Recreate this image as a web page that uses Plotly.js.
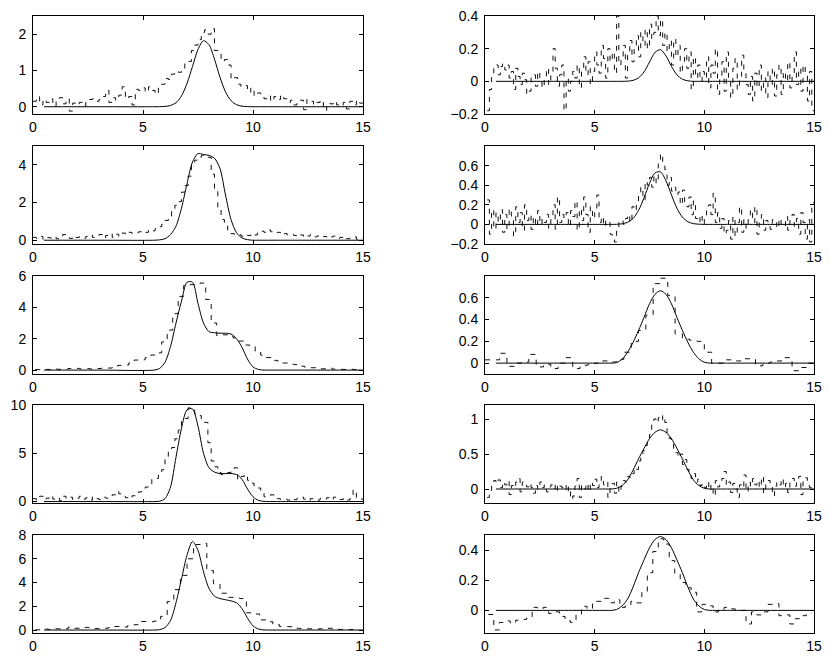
<!DOCTYPE html>
<html><head><meta charset="utf-8">
<script src="https://cdn.plot.ly/plotly-3.0.1.min.js"></script>
<style>html,body{margin:0;padding:0;background:#fff}#chart{width:830px;height:664px}</style>
</head><body><div id="chart"></div>
<script>
// ---------- data ----------
const xTickVals = [0, 5, 10, 15];
const curveX = [0.5, 3, 5.5, 5.75, 6, 6.25, 6.5, 6.75, 7, 7.25, 7.5, 7.75, 8, 8.25, 8.5, 8.75, 9, 9.25, 9.5, 9.75, 10, 10.25, 10.5, 10.75, 11, 13, 15];

const curveL1 = [0,0,0,0.002,0.01,0.035,0.11,0.30,0.64,1.11,1.58,1.82,1.71,1.31,0.81,0.41,0.17,0.057,0.015,0.003,0,0,0,0,0,0,0];
const curveL2 = [0,0,0,0.02,0.08,0.3,0.75,1.7,3.0,4.15,4.6,4.55,4.5,4.35,3.8,2.4,1.1,0.4,0.12,0.03,0,0,0,0,0,0,0];
const curveL3 = [0,0,0,0.1,0.5,1.5,3.0,4.4,5.6,5.6,4.25,3.0,2.45,2.38,2.35,2.35,2.3,2.0,1.45,0.7,0.2,0.04,0,0,0,0,0];
const curveL4 = [0,0,0,0.03,0.3,1.5,4.6,7.6,9.5,9.6,7.8,5.0,3.5,3.05,2.9,2.9,2.9,2.8,2.3,1.3,0.5,0.12,0.02,0,0,0,0];
const curveL5 = [0,0,0,0.03,0.2,0.8,2.3,4.3,6.3,7.45,6.7,4.9,3.5,2.85,2.65,2.55,2.45,2.3,1.8,1.0,0.35,0.08,0.01,0,0,0,0];
const curveR1 = [0,0,0,0,0,0,0.001,0.006,0.021,0.058,0.118,0.177,0.194,0.156,0.092,0.040,0.013,0.003,0,0,0,0,0,0,0,0,0];
const curveR2 = [0,0,0,0,0.001,0.006,0.021,0.061,0.143,0.271,0.419,0.525,0.536,0.445,0.301,0.165,0.074,0.027,0.008,0.002,0,0,0,0,0,0,0];
const curveR3 = [0,0,0,0,0.005,0.035,0.10,0.19,0.30,0.42,0.545,0.632,0.665,0.632,0.545,0.42,0.30,0.19,0.10,0.04,0.008,0,0,0,0,0,0];
const curveR4 = [0,0,0,0,0.01,0.05,0.13,0.27,0.43,0.58,0.72,0.81,0.845,0.81,0.72,0.58,0.43,0.27,0.13,0.05,0.01,0,0,0,0,0,0];
const curveR5 = [0,0,0,0,0.006,0.03,0.075,0.155,0.25,0.335,0.415,0.47,0.49,0.47,0.415,0.335,0.25,0.155,0.075,0.03,0.006,0,0,0,0,0,0];

// staircase (histogram) values; bins start at stepsXX_start with width stepsXX_width
const stepsL1_start = 0, stepsL1_width = 0.15;
const stepsL1 = [0.15,0.28,0.05,0.20,0.12,0.22,0.02,0.18,0.25,0.08,
 0.22,-0.12,0.10,0.05,0.12,0.02,0.18,0.20,0.22,0.15,
 0.20,0.28,0.45,0.12,0.25,0.18,0.32,0.55,0.22,0.28,
 0.05,0.48,0.45,0.52,0.40,0.55,0.45,0.35,0.60,0.62,
 0.78,0.75,0.90,0.98,0.95,1.05,1.20,1.25,1.55,1.70,
 1.85,2.05,2.12,2.00,2.15,1.55,1.45,1.25,1.30,1.15,
 0.75,0.80,0.62,0.55,0.58,0.40,0.52,0.30,0.38,0.28,
 0.22,0.30,0.15,0.28,0.20,0.32,0.22,0.12,0.18,0.05,
 0.12,0.18,-0.08,0.20,0.15,0.05,0.12,0.18,-0.10,0.10,
 0.08,0.15,0.05,0.02,0.12,-0.06,0.15,0.05,0.18,0.10];

const stepsL2_start = 0, stepsL2_width = 0.15;
const stepsL2 = [0.15,0.10,0.20,0.05,0.15,0.12,0.20,0.08,0.15,0.30,
 0.25,0.10,0.22,0.15,0.18,0.10,0.20,0.28,0.15,0.22,
 0.30,0.12,0.25,0.35,0.15,0.32,0.20,0.38,0.30,0.42,
 0.35,0.40,0.45,0.38,0.42,0.55,0.50,0.62,0.72,0.85,
 1.05,1.25,1.55,1.85,2.05,2.55,2.90,3.40,3.95,4.25,
 4.40,4.50,4.45,4.40,3.50,2.60,1.75,1.10,0.75,0.45,
 0.35,0.28,0.30,0.22,0.30,0.25,0.35,0.28,0.40,0.48,
 0.42,0.55,0.45,0.38,0.42,0.30,0.35,0.28,0.32,0.25,
 0.20,0.28,0.15,0.22,0.30,0.18,0.22,0.15,0.20,0.12,
 0.18,0.22,0.10,0.15,0.20,0.08,0.12,0.18,0.05,0.10];

const stepsL3_start = 0.1, stepsL3_width = 0.25;
const stepsL3 = [0.03,0.05,0.04,0.07,0.05,0.06,0.10,0.11,0.08,0.09,
 0.07,0.10,0.12,0.13,0.18,0.30,0.32,0.45,0.64,0.66,
 0.80,0.96,1.10,1.80,2.55,3.60,4.70,5.40,5.45,5.50,
 5.55,4.50,3.00,2.20,2.25,2.15,2.05,1.85,1.60,1.55,
 1.20,0.95,0.80,0.62,0.58,0.45,0.38,0.35,0.25,0.18,
 0.15,0.10,0.08,0.12,0.06,0.05,0.04,0.05,0.03];

const stepsL4_start = 0, stepsL4_width = 0.15;
const stepsL4 = [0.30,0.15,0.55,0.20,0.35,0.60,0.25,0.40,0.10,0.55,
 0.30,0.45,0.20,0.35,0.55,0.25,0.40,0.15,0.50,0.30,
 0.20,0.45,0.35,0.55,0.70,1.05,0.80,0.55,0.40,0.30,
 0.60,0.85,1.00,1.20,1.50,1.85,2.30,2.40,2.80,3.30,
 4.60,5.10,5.60,6.50,7.40,8.30,8.60,9.70,9.50,9.10,
 8.90,8.40,8.20,6.10,4.20,3.60,3.00,2.80,2.90,3.00,
 3.30,3.50,2.30,2.60,2.80,2.20,1.90,1.60,1.40,0.90,
 0.50,0.60,0.70,0.45,0.30,0.20,0.25,0.15,0.30,0.20,
 0.35,0.45,0.25,0.10,0.30,0.20,0.15,0.35,0.25,0.40,
 0.20,0.45,0.30,0.20,0.35,0.15,0.30,1.20,0.40,0.25];

const stepsL5_start = 0.1, stepsL5_width = 0.3;
const stepsL5 = [0.02,0.08,0.05,0.10,0.12,0.25,0.15,0.22,0.20,0.12,
 0.15,0.20,0.30,0.25,0.37,0.45,0.72,0.70,0.75,1.15,
 2.40,3.40,4.60,6.00,7.20,7.30,5.00,3.90,3.10,2.75,
 2.70,2.65,1.45,1.35,0.85,0.70,0.45,0.30,0.28,0.15,
 0.12,0.10,0.08,0.10,0.15,0.08,0.05,0.03,0.02];

const stepsR1_start = 0.1, stepsR1_width = 0.1;
const stepsR1 = [-0.18,-0.05,0.05,0.08,0.10,0.04,0.09,0.11,0.07,
 0.10,0.02,0.06,-0.05,0.08,0.03,-0.02,0.05,0.01,-0.08,
 -0.06,0.02,0.04,-0.03,0.06,0.01,-0.04,0.03,0.08,-0.02,
 0.05,0.20,0.08,-0.03,0.04,0.10,-0.18,0.02,-0.06,0.00,
 0.06,0.02,0.10,-0.04,0.08,0.15,0.04,0.12,-0.02,0.06,
 0.18,0.10,0.05,0.22,0.14,0.02,0.20,0.12,0.18,0.05,
 0.40,0.10,0.15,0.22,0.02,0.18,0.25,0.12,0.20,0.28,
 0.15,0.30,0.22,0.32,0.20,0.35,0.26,0.30,0.40,0.28,
 0.38,0.22,0.30,0.18,0.25,0.10,0.26,0.15,0.22,0.05,
 0.12,0.20,0.08,0.18,-0.05,0.15,0.02,0.10,0.00,0.06,
 0.02,0.15,-0.04,0.10,0.05,0.20,-0.08,0.03,0.12,-0.06,
 0.18,0.02,-0.10,0.08,0.14,-0.05,0.02,0.16,0.06,-0.02,
 -0.08,0.03,-0.12,0.05,-0.04,0.10,-0.06,0.02,-0.10,0.06,
 -0.02,0.08,-0.09,0.04,0.10,-0.08,0.06,0.00,0.12,-0.04,
 0.05,0.18,-0.02,0.08,-0.06,0.10,0.04,-0.12,0.06,-0.18];

const stepsR2_start = 0.1, stepsR2_width = 0.1;
const stepsR2 = [0.25,-0.10,0.15,-0.05,0.12,0.02,0.15,-0.08,0.10,
 -0.05,0.16,0.05,-0.12,0.18,0.02,0.12,-0.06,0.20,0.04,
 0.10,-0.05,0.08,-0.02,0.14,0.00,0.06,0.02,0.10,-0.04,
 0.05,0.20,-0.05,0.28,0.02,0.10,0.06,0.12,-0.02,0.14,
 0.08,0.24,-0.06,0.16,0.04,0.28,0.10,-0.08,0.18,0.06,
 0.12,0.30,0.02,0.08,-0.02,0.04,0.02,-0.10,-0.12,-0.18,
 -0.05,0.02,0.04,0.00,0.06,0.10,0.02,0.18,0.14,0.22,
 0.30,0.38,0.25,0.44,0.40,0.48,0.38,0.50,0.42,0.62,
 0.72,0.64,0.56,0.40,0.48,0.34,0.38,0.30,0.33,0.20,
 0.35,0.22,0.18,0.28,0.10,0.24,0.06,0.02,0.10,0.00,
 0.06,0.14,0.20,0.10,0.32,0.02,0.12,-0.04,0.06,-0.10,
 -0.06,0.04,-0.15,0.08,-0.12,0.02,0.18,-0.08,0.05,-0.04,
 0.08,0.15,0.02,0.18,-0.10,0.06,0.10,-0.06,0.04,0.00,
 -0.05,0.05,0.02,-0.04,0.06,0.00,-0.02,0.08,-0.06,0.04,
 0.10,-0.02,0.06,-0.10,0.12,0.02,-0.15,0.05,-0.18,0.22];

const stepsR3_start = 0, stepsR3_width = 1/3;
const stepsR3 = [0.03,0.03,0.09,-0.03,0.00,0.01,0.08,-0.035,-0.01,-0.05,
 0.00,0.05,-0.05,-0.02,-0.015,0.00,0.02,0.01,0.035,0.10,
 0.20,0.30,0.44,0.73,0.78,0.62,0.27,0.22,0.21,0.20,
 0.10,0.00,0.00,0.03,0.02,0.04,0.04,-0.025,0.00,0.01,
 0.02,0.05,-0.07,-0.04,0.00];

const stepsR4_start = 0.1, stepsR4_width = 0.1;
const stepsR4 = [-0.12,-0.05,0.05,0.12,0.08,0.13,0.02,0.10,0.06,
 0.12,-0.08,0.05,0.02,0.10,0.15,-0.04,0.10,0.06,0.03,
 0.08,0.02,-0.06,0.05,0.00,0.10,0.02,0.06,-0.04,0.03,
 0.06,0.00,0.08,-0.02,0.04,0.02,0.06,-0.05,0.03,-0.15,
 -0.10,0.04,0.15,-0.12,0.05,0.00,0.08,-0.04,0.10,0.05,
 0.14,0.02,0.12,0.18,0.06,0.10,-0.12,0.02,0.08,-0.06,
 0.10,-0.05,0.04,0.12,0.10,0.18,0.16,0.22,0.30,0.28,
 0.40,0.46,0.55,0.62,0.70,0.78,0.92,1.00,0.95,1.02,
 0.98,1.05,0.95,0.80,0.72,0.65,0.58,0.52,0.45,0.50,
 0.35,0.42,0.28,0.20,0.15,0.22,0.10,0.14,0.05,0.08,
 0.02,0.10,-0.02,0.06,-0.10,0.12,0.03,0.08,0.15,0.25,
 0.05,0.10,-0.05,0.08,0.00,-0.12,0.06,0.02,0.20,-0.04,
 0.10,0.04,0.15,0.06,0.12,0.02,0.18,-0.06,0.08,0.12,
 0.05,-0.10,0.04,0.10,0.06,0.15,0.02,0.08,-0.05,0.12,
 0.15,0.04,0.10,0.18,-0.08,0.14,0.16,0.05,0.02,0.01];

const stepsR5_start = 0.15, stepsR5_width = 0.25;
const stepsR5 = [-0.027,-0.13,-0.08,-0.07,-0.085,-0.065,-0.06,-0.05,0.02,0.01,
 0.02,-0.02,-0.01,-0.04,-0.07,-0.08,-0.03,0.027,0.01,0.06,
 0.06,0.08,0.05,0.07,0.02,0.03,0.06,0.05,0.12,0.25,
 0.39,0.475,0.44,0.33,0.24,0.185,0.15,0.12,-0.01,0.04,
 0.03,-0.01,0.00,0.02,0.01,0.007,0.00,-0.09,-0.01,-0.03,
 -0.01,0.04,0.045,-0.035,-0.03,-0.09,-0.055,-0.035,-0.02];

// axis ranges and tick values per panel
const yRangeL = [[-0.2,2.5],[-0.2,5],[-0.25,6],[-0.15,10],[-0.25,8]];
const yTicksL = [[0,1,2],[0,2,4],[0,2,4,6],[0,5,10],[0,2,4,6,8]];
const yRangeR = [[-0.2,0.4],[-0.2,0.8],[-0.1,0.8],[-0.2,1.2],[-0.15,0.5]];
const yTicksR = [[-0.2,0,0.2,0.4],[-0.2,0,0.2,0.4,0.6],[0,0.2,0.4,0.6],[0,0.5,1],[0,0.2,0.4]];

// ---------- build ----------
const panels = [
  {curve:curveL1, steps:stepsL1, s:stepsL1_start, w:stepsL1_width},
  {curve:curveL2, steps:stepsL2, s:stepsL2_start, w:stepsL2_width},
  {curve:curveL3, steps:stepsL3, s:stepsL3_start, w:stepsL3_width},
  {curve:curveL4, steps:stepsL4, s:stepsL4_start, w:stepsL4_width},
  {curve:curveL5, steps:stepsL5, s:stepsL5_start, w:stepsL5_width},
  {curve:curveR1, steps:stepsR1, s:stepsR1_start, w:stepsR1_width},
  {curve:curveR2, steps:stepsR2, s:stepsR2_start, w:stepsR2_width},
  {curve:curveR3, steps:stepsR3, s:stepsR3_start, w:stepsR3_width},
  {curve:curveR4, steps:stepsR4, s:stepsR4_start, w:stepsR4_width},
  {curve:curveR5, steps:stepsR5, s:stepsR5_start, w:stepsR5_width}
];
const yRanges = yRangeL.concat(yRangeR);
const yTicks = yTicksL.concat(yTicksR);

const W = 830, H = 664;
const colPx = [[33,363],[485,814]];
const rowPx = [[16,114],[146,244],[276,374],[405,503],[535,633]];
const font = {family:'"Liberation Sans", Arial, Helvetica, sans-serif', size:14, color:'#000'};

const traces = [];
const layout = {
  width:W, height:H, margin:{l:0,r:0,t:0,b:0},
  paper_bgcolor:'#fff', plot_bgcolor:'#fff', showlegend:false, font:font
};

panels.forEach((p, i) => {
  const k = i + 1;
  const col = i < 5 ? 0 : 1;
  const row = i % 5;
  const xa = k === 1 ? 'x' : 'x' + k;
  const ya = k === 1 ? 'y' : 'y' + k;
  const sx = [], sy = [];
  for (let j = 0; j < p.steps.length; j++) { sx.push(p.s + j * p.w); sy.push(p.steps[j]); }
  sx.push(p.s + p.steps.length * p.w); sy.push(p.steps[p.steps.length - 1]);
  traces.push({x:sx, y:sy, xaxis:xa, yaxis:ya, type:'scatter', mode:'lines',
    line:{shape:'hv', color:'#111', width:1, dash:'5px,6px'}, hoverinfo:'skip'});
  traces.push({x:curveX, y:p.curve, xaxis:xa, yaxis:ya, type:'scatter', mode:'lines',
    line:{shape:'spline', smoothing:0.8, color:'#000', width:1}, hoverinfo:'skip'});
  const common = {showline:true, linecolor:'#000', linewidth:1, mirror:'ticks',
    ticks:'inside', ticklen:4, tickcolor:'#000', tickwidth:1, showgrid:false, zeroline:false,
    tickfont:font, fixedrange:true};
  layout['xaxis' + (k === 1 ? '' : k)] = Object.assign({}, common, {
    domain:[colPx[col][0] / W, colPx[col][1] / W], anchor:ya,
    range:[0,15], tickmode:'array', tickvals:xTickVals, ticktext:xTickVals.map(String)
  });
  layout['yaxis' + (k === 1 ? '' : k)] = Object.assign({}, common, {
    domain:[1 - rowPx[row][1] / H, 1 - rowPx[row][0] / H], anchor:xa,
    range:yRanges[i], tickmode:'array', tickvals:yTicks[i], ticklabelstandoff:3
  });
});

Plotly.newPlot('chart', traces, layout, {staticPlot:true, displayModeBar:false});
</script>
</body></html>
